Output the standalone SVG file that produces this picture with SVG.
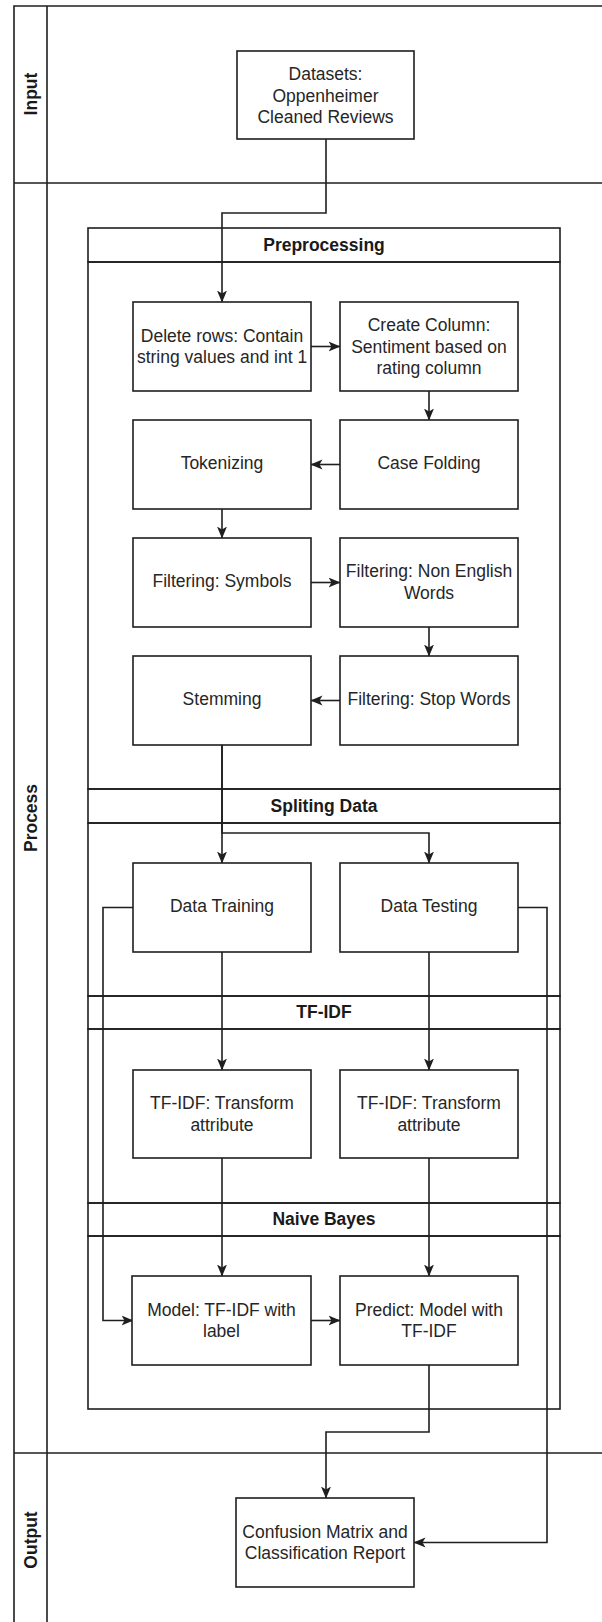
<svg xmlns="http://www.w3.org/2000/svg" width="602" height="1622" viewBox="0 0 602 1622">
  <style>
    .ln { fill: none; stroke: #1f1f1f; stroke-width: 1.6; }
    .box { fill: #ffffff; stroke: #1f1f1f; stroke-width: 1.6; }
    .sec { fill: none; stroke: #1f1f1f; stroke-width: 1.6; }
    .t { font-family: "Liberation Sans", Arial, sans-serif; font-size: 17.5px; fill: #262626; text-anchor: middle; dominant-baseline: central; }
    .b { font-weight: bold; fill: #1a1a1a; }
    .edge { fill: none; stroke: #1f1f1f; stroke-width: 1.6; }
    .edge.a { marker-end: url(#arrow); }
  </style>
  <defs>
    <marker id="arrow" markerUnits="userSpaceOnUse" viewBox="0 0 12 11" markerWidth="12" markerHeight="11" refX="11.5" refY="5.5" orient="auto">
      <path d="M0,0.5 L12,5.5 L0,10.5 L3,5.5 Z" fill="#1f1f1f"/>
    </marker>
  </defs>

  <rect width="602" height="1622" fill="#ffffff"/>

  <!-- pool with three lanes -->
  <g id="pool">
    <path class="ln" d="M14,1622 V6 H602"/>
    <path class="ln" d="M47,6 V1622"/>
    <path class="ln" d="M14,183 H602"/>
    <path class="ln" d="M14,1453 H602"/>
    <text class="t b" transform="translate(31,94) rotate(-90)" x="0" y="0">Input</text>
    <text class="t b" transform="translate(31,818) rotate(-90)" x="0" y="0">Process</text>
    <text class="t b" transform="translate(31,1540) rotate(-90)" x="0" y="0">Output</text>
  </g>

  <!-- stacked stage containers -->
  <g id="preprocessing">
    <rect class="sec" x="88" y="228" width="472" height="34"/>
    <rect class="sec" x="88" y="262" width="472" height="527"/>
    <text class="t b" x="324" y="245">Preprocessing</text>
  </g>
  <g id="splitting">
    <rect class="sec" x="88" y="789" width="472" height="34"/>
    <rect class="sec" x="88" y="823" width="472" height="173"/>
    <text class="t b" x="324" y="806">Spliting Data</text>
  </g>
  <g id="tfidf">
    <rect class="sec" x="88" y="996" width="472" height="33"/>
    <rect class="sec" x="88" y="1029" width="472" height="174"/>
    <text class="t b" x="324" y="1012">TF-IDF</text>
  </g>
  <g id="naive-bayes">
    <rect class="sec" x="88" y="1203" width="472" height="33"/>
    <rect class="sec" x="88" y="1236" width="472" height="173"/>
    <text class="t b" x="324" y="1219">Naive Bayes</text>
  </g>

  <!-- connectors -->
  <g id="connectors">
    <path class="edge a" d="M326,139 V213 H222 V302"/>
    <path class="edge a" d="M311,346.5 H340"/>
    <path class="edge a" d="M429,391 V420"/>
    <path class="edge a" d="M340,464.5 H311"/>
    <path class="edge a" d="M222,509 V538"/>
    <path class="edge a" d="M311,582.5 H340"/>
    <path class="edge a" d="M429,627 V656"/>
    <path class="edge a" d="M340,700.5 H311"/>
    <path class="edge a" d="M222,745 V863"/>
    <path class="edge a" d="M222,745 V833 H429 V863"/>
    <path class="edge a" d="M222,952 V1070"/>
    <path class="edge a" d="M429,952 V1070"/>
    <path class="edge a" d="M222,1158 V1276"/>
    <path class="edge a" d="M429,1158 V1276"/>
    <path class="edge a" d="M133,907.5 H103 V1320.5 H133"/>
    <path class="edge a" d="M311,1320.5 H340"/>
    <path class="edge a" d="M429,1365 V1432 H326 V1498"/>
    <path class="edge a" d="M518,907.5 H547 V1542.5 H414"/>
  </g>

  <!-- nodes -->
  <g id="datasets">
    <rect class="box" x="237" y="51" width="177" height="88"/>
    <text class="t" x="325.5" y="74">Datasets:</text>
    <text class="t" x="325.5" y="95.5">Oppenheimer</text>
    <text class="t" x="325.5" y="117">Cleaned Reviews</text>
  </g>
  <g id="delete-rows">
    <rect class="box" x="133" y="302" width="178" height="89"/>
    <text class="t" x="222" y="335.5">Delete rows: Contain</text>
    <text class="t" x="222" y="357">string values and int 1</text>
  </g>
  <g id="create-column">
    <rect class="box" x="340" y="302" width="178" height="89"/>
    <text class="t" x="429" y="325">Create Column:</text>
    <text class="t" x="429" y="346.5">Sentiment based on</text>
    <text class="t" x="429" y="368">rating column</text>
  </g>
  <g id="tokenizing">
    <rect class="box" x="133" y="420" width="178" height="89"/>
    <text class="t" x="222" y="463">Tokenizing</text>
  </g>
  <g id="case-folding">
    <rect class="box" x="340" y="420" width="178" height="89"/>
    <text class="t" x="429" y="463">Case Folding</text>
  </g>
  <g id="filtering-symbols">
    <rect class="box" x="133" y="538" width="178" height="89"/>
    <text class="t" x="222" y="581">Filtering: Symbols</text>
  </g>
  <g id="filtering-non-english">
    <rect class="box" x="340" y="538" width="178" height="89"/>
    <text class="t" x="429" y="571">Filtering: Non English</text>
    <text class="t" x="429" y="592.5">Words</text>
  </g>
  <g id="stemming">
    <rect class="box" x="133" y="656" width="178" height="89"/>
    <text class="t" x="222" y="699">Stemming</text>
  </g>
  <g id="filtering-stop-words">
    <rect class="box" x="340" y="656" width="178" height="89"/>
    <text class="t" x="429" y="699">Filtering: Stop Words</text>
  </g>
  <g id="data-training">
    <rect class="box" x="133" y="863" width="178" height="89"/>
    <text class="t" x="222" y="906">Data Training</text>
  </g>
  <g id="data-testing">
    <rect class="box" x="340" y="863" width="178" height="89"/>
    <text class="t" x="429" y="906">Data Testing</text>
  </g>
  <g id="tfidf-train">
    <rect class="box" x="133" y="1070" width="178" height="88"/>
    <text class="t" x="222" y="1103">TF-IDF: Transform</text>
    <text class="t" x="222" y="1124.5">attribute</text>
  </g>
  <g id="tfidf-test">
    <rect class="box" x="340" y="1070" width="178" height="88"/>
    <text class="t" x="429" y="1103">TF-IDF: Transform</text>
    <text class="t" x="429" y="1124.5">attribute</text>
  </g>
  <g id="model">
    <rect class="box" x="132" y="1276" width="179" height="89"/>
    <text class="t" x="221.5" y="1309.5">Model: TF-IDF with</text>
    <text class="t" x="221.5" y="1331">label</text>
  </g>
  <g id="predict">
    <rect class="box" x="340" y="1276" width="178" height="89"/>
    <text class="t" x="429" y="1309.5">Predict: Model with</text>
    <text class="t" x="429" y="1331">TF-IDF</text>
  </g>
  <g id="confusion-matrix">
    <rect class="box" x="236" y="1498" width="178" height="89"/>
    <text class="t" x="325" y="1531.5">Confusion Matrix and</text>
    <text class="t" x="325" y="1553">Classification Report</text>
  </g>
</svg>
